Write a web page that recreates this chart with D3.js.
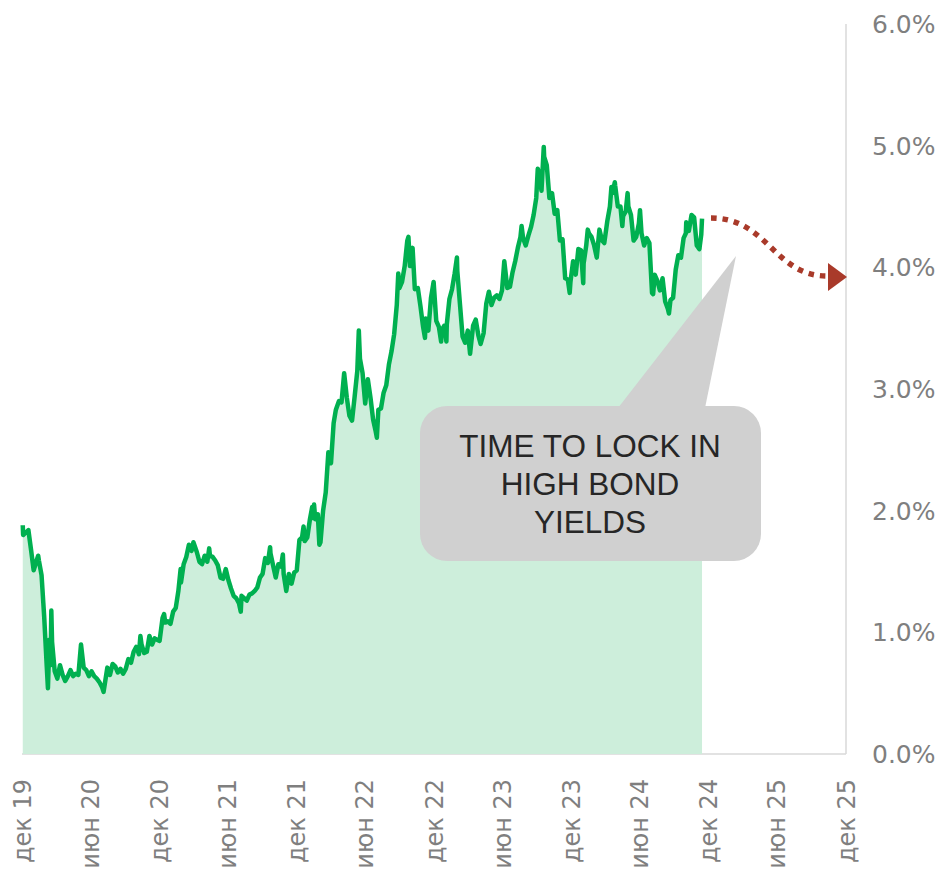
<!DOCTYPE html>
<html>
<head>
<meta charset="utf-8">
<script src="https://cdn.jsdelivr.net/npm/d3@7"></script>
<style>
  body { margin: 0; background: #fff; }
  svg { display: block; }
</style>
</head>
<body>
<svg width="944" height="880"></svg>
<script>
// US 10Y yield, % (roughly weekly)
const yields2020 = [
  ["01-02",1.88],["01-03",1.80],["01-10",1.82],["01-17",1.84],["01-24",1.68],["01-31",1.51],["02-07",1.58],["02-12",1.63],
  ["02-14",1.59],["02-21",1.47],["02-28",1.13],["03-06",0.71],["03-09",0.54],["03-13",0.94],["03-16",0.73],["03-18",1.18],
  ["03-20",0.92],["03-27",0.68],["04-03",0.62],["04-10",0.73],["04-17",0.65],["04-24",0.60],["05-01",0.64],["05-08",0.69],
  ["05-15",0.64],["05-22",0.66],["05-29",0.65],["06-05",0.90],["06-12",0.71],["06-19",0.69],["06-26",0.64],["07-03",0.68],
  ["07-10",0.64],["07-17",0.62],["07-24",0.59],["07-31",0.55],["08-04",0.51],["08-07",0.57],["08-14",0.71],["08-21",0.65],
  ["08-28",0.74],["09-04",0.72],["09-11",0.67],["09-18",0.70],["09-25",0.66],["10-02",0.70],["10-09",0.78],["10-16",0.75],
  ["10-23",0.84],["10-30",0.88],["11-06",0.82],["11-10",0.97],["11-13",0.90],["11-20",0.83],["11-27",0.84],["12-04",0.97],
  ["12-11",0.90],["12-18",0.95],["12-24",0.94],["12-31",0.93]
]
const yields2021 = [
  ["01-08",1.12],["01-12",1.15],["01-15",1.08],["01-22",1.09],["01-29",1.07],["02-05",1.17],["02-12",1.20],["02-19",1.34],
  ["02-25",1.52],["02-26",1.41],["03-05",1.56],["03-12",1.62],["03-19",1.72],["03-26",1.67],["03-31",1.74],["04-09",1.66],
  ["04-16",1.58],["04-23",1.56],["04-30",1.63],["05-07",1.58],["05-12",1.69],["05-14",1.63],["05-21",1.62],["05-28",1.59],
  ["06-04",1.55],["06-11",1.45],["06-18",1.44],["06-25",1.52],["07-02",1.43],["07-09",1.36],["07-16",1.30],["07-23",1.28],
  ["07-30",1.24],["08-04",1.17],["08-06",1.30],["08-13",1.28],["08-20",1.26],["08-27",1.31],["09-03",1.32],["09-10",1.34],
  ["09-17",1.37],["09-24",1.45],["10-01",1.48],["10-08",1.61],["10-15",1.57],["10-21",1.70],["10-22",1.65],["10-29",1.55],
  ["11-05",1.45],["11-12",1.56],["11-19",1.54],["11-24",1.64],["11-26",1.48],["12-03",1.34],["12-10",1.48],["12-17",1.40],
  ["12-24",1.49],["12-31",1.51]
]
const yields2022 = [
  ["01-07",1.76],["01-14",1.78],["01-18",1.87],["01-21",1.75],["01-28",1.78],["02-04",1.93],["02-10",2.03],["02-11",1.94],
  ["02-15",2.05],["02-18",1.93],["02-25",1.97],["03-01",1.72],["03-04",1.74],["03-11",2.00],["03-18",2.15],["03-25",2.48],
  ["04-01",2.39],["04-08",2.72],["04-14",2.83],["04-22",2.90],["04-29",2.89],["05-06",3.13],["05-13",2.93],["05-20",2.78],
  ["05-27",2.74],["06-03",2.94],["06-10",3.15],["06-14",3.48],["06-17",3.25],["06-24",3.13],["07-01",2.88],["07-08",3.08],
  ["07-15",2.93],["07-22",2.75],["07-29",2.65],["08-01",2.60],["08-05",2.83],["08-12",2.84],["08-19",2.97],["08-26",3.03],
  ["09-02",3.20],["09-09",3.31],["09-16",3.45],["09-23",3.69],["09-27",3.95],["09-30",3.83],["10-07",3.88],["10-14",4.01],
  ["10-21",4.22],["10-24",4.25],["10-28",4.01],["11-04",4.16],["11-10",3.82],["11-18",3.83],["11-25",3.68],["12-02",3.51],
  ["12-07",3.42],["12-09",3.58],["12-16",3.48],["12-23",3.75],["12-30",3.88]
]
const yields2023 = [
  ["01-06",3.56],["01-13",3.51],["01-19",3.39],["01-20",3.48],["01-27",3.52],["02-02",3.39],["02-03",3.53],["02-10",3.74],
  ["02-17",3.82],["02-24",3.95],["03-02",4.08],["03-03",3.97],["03-10",3.70],["03-17",3.43],["03-24",3.38],["03-31",3.48],
  ["04-06",3.29],["04-14",3.52],["04-21",3.57],["04-28",3.44],["05-04",3.37],["05-12",3.46],["05-19",3.70],["05-26",3.80],
  ["06-02",3.69],["06-09",3.75],["06-16",3.77],["06-23",3.74],["06-30",3.81],["07-06",4.05],["07-14",3.83],["07-21",3.84],
  ["07-28",3.96],["08-04",4.05],["08-11",4.16],["08-18",4.25],["08-21",4.34],["08-25",4.24],["09-01",4.18],["09-08",4.26],
  ["09-15",4.33],["09-22",4.43],["09-29",4.57],["10-03",4.81],["10-06",4.78],["10-13",4.63],["10-19",4.99],["10-20",4.91],
  ["10-27",4.84],["11-03",4.57],["11-10",4.61],["11-17",4.44],["11-24",4.47],["12-01",4.22],["12-08",4.23],["12-15",3.91],
  ["12-22",3.90],["12-27",3.79],["12-29",3.88]
]
const yields2024 = [
  ["01-05",4.05],["01-12",3.94],["01-19",4.15],["01-26",4.14],["02-01",3.87],["02-02",4.03],["02-09",4.18],["02-13",4.31],
  ["02-16",4.28],["02-23",4.25],["03-01",4.18],["03-08",4.08],["03-15",4.31],["03-22",4.22],["03-28",4.20],["04-05",4.38],
  ["04-12",4.50],["04-16",4.66],["04-19",4.61],["04-25",4.70],["04-26",4.67],["05-03",4.50],["05-10",4.50],["05-15",4.34],
  ["05-17",4.42],["05-24",4.46],["05-29",4.61],["05-31",4.50],["06-07",4.43],["06-14",4.22],["06-21",4.25],["06-28",4.36],
  ["07-01",4.47],["07-05",4.28],["07-12",4.18],["07-19",4.24],["07-26",4.20],["08-02",3.79],["08-05",3.78],["08-09",3.94],
  ["08-16",3.89],["08-23",3.81],["08-30",3.91],["09-06",3.72],["09-13",3.66],["09-16",3.62],["09-20",3.73],["09-27",3.75],
  ["10-04",3.98],["10-11",4.10],["10-18",4.08],["10-25",4.24],["10-31",4.28],["11-01",4.37],["11-08",4.30],["11-15",4.43],
  ["11-22",4.41],["11-29",4.18],["12-06",4.15],["12-11",4.27],["12-13",4.40]
]

const tickDates = ["2019-12-31","2020-06-30","2020-12-31","2021-06-30","2021-12-31","2022-06-30","2022-12-31",
  "2023-06-30","2023-12-31","2024-06-30","2024-12-31","2025-06-30","2025-12-31"]
const tickLabels = ["дек 19","июн 20","дек 20","июн 21","дек 21","июн 22","дек 22",
  "июн 23","дек 23","июн 24","дек 24","июн 25","дек 25"]
const yTicks = [0, 1, 2, 3, 4, 5, 6]
const calloutLines = ["TIME TO LOCK IN", "HIGH BOND", "YIELDS"]

let parse = d3.timeParse("%Y-%m-%d")
let data = []
;[[2020, yields2020], [2021, yields2021], [2022, yields2022], [2023, yields2023], [2024, yields2024]]
  .forEach(([yr, arr]) => arr.forEach(d => data.push({date: parse(yr + "-" + d[0]), value: d[1]})))

let svg = d3.select("svg")

let x = d3.scaleTime()
  .domain([parse("2019-12-31"), parse("2025-12-31")])
  .range([22, 846])
let y = d3.scaleLinear().domain([0, 6]).range([754, 24])

// axes lines
svg.append("line")
  .attr("x1", x.range()[0]).attr("x2", x.range()[1])
  .attr("y1", y(0)).attr("y2", y(0))
  .attr("stroke", "#d9d9d9").attr("stroke-width", 1.5)
svg.append("line")
  .attr("x1", x.range()[1]).attr("x2", x.range()[1])
  .attr("y1", y(6)).attr("y2", y(0))
  .attr("stroke", "#d9d9d9").attr("stroke-width", 1.5)

// area + line
let area = d3.area()
  .x(d => x(d.date))
  .y0(y(0))
  .y1(d => y(d.value))
svg.append("path")
  .datum(data)
  .attr("d", area)
  .attr("fill", "#cdeedb")

let line = d3.line()
  .x(d => x(d.date))
  .y(d => y(d.value))
svg.append("path")
  .datum(data)
  .attr("d", line)
  .attr("fill", "none")
  .attr("stroke", "#00b050")
  .attr("stroke-width", 4.5)
  .attr("stroke-linejoin", "round")

// y labels on the right
svg.append("g")
  .selectAll("text")
  .data(yTicks)
  .join("text")
  .attr("x", 872)
  .attr("y", d => y(d))
  .attr("dy", "0.36em")
  .attr("font-family", "DejaVu Sans, sans-serif")
  .attr("font-size", 25)
  .attr("fill", "#7f7f7f")
  .text(d => d.toFixed(1) + "%")

// x labels, rotated
svg.append("g")
  .selectAll("text")
  .data(tickDates)
  .join("text")
  .attr("transform", (d, i) => "translate(" + x(parse(d)) + ",779) rotate(-90)")
  .attr("text-anchor", "end")
  .attr("dy", "0.36em")
  .attr("font-family", "DejaVu Sans, sans-serif")
  .attr("font-size", 24)
  .attr("fill", "#7f7f7f")
  .text((d, i) => tickLabels[i])

// callout
let callout = svg.append("g")
callout.append("path")
  .attr("d", "M618,408 L736,256 L705,408 Z")
  .attr("fill", "#d0d0d0")
callout.append("rect")
  .attr("x", 420).attr("y", 406)
  .attr("width", 341).attr("height", 155)
  .attr("rx", 27)
  .attr("fill", "#d0d0d0")
callout.selectAll("text")
  .data(calloutLines)
  .join("text")
  .attr("x", 590)
  .attr("y", (d, i) => 457 + i * 38)
  .attr("text-anchor", "middle")
  .attr("font-family", "Liberation Sans, Arial, sans-serif")
  .attr("font-size", 31.5)
  .attr("fill", "#262626")
  .text(d => d)

// dotted forecast arrow
svg.append("path")
  .attr("d", "M711,218 C768,218 774,276 827,276")
  .attr("fill", "none")
  .attr("stroke", "#a93a2a")
  .attr("stroke-width", 5.5)
  .attr("stroke-dasharray", "5.5 6")
svg.append("path")
  .attr("d", "M828,263 L847,277 L828,291 Z")
  .attr("fill", "#a93a2a")
</script>
</body>
</html>
